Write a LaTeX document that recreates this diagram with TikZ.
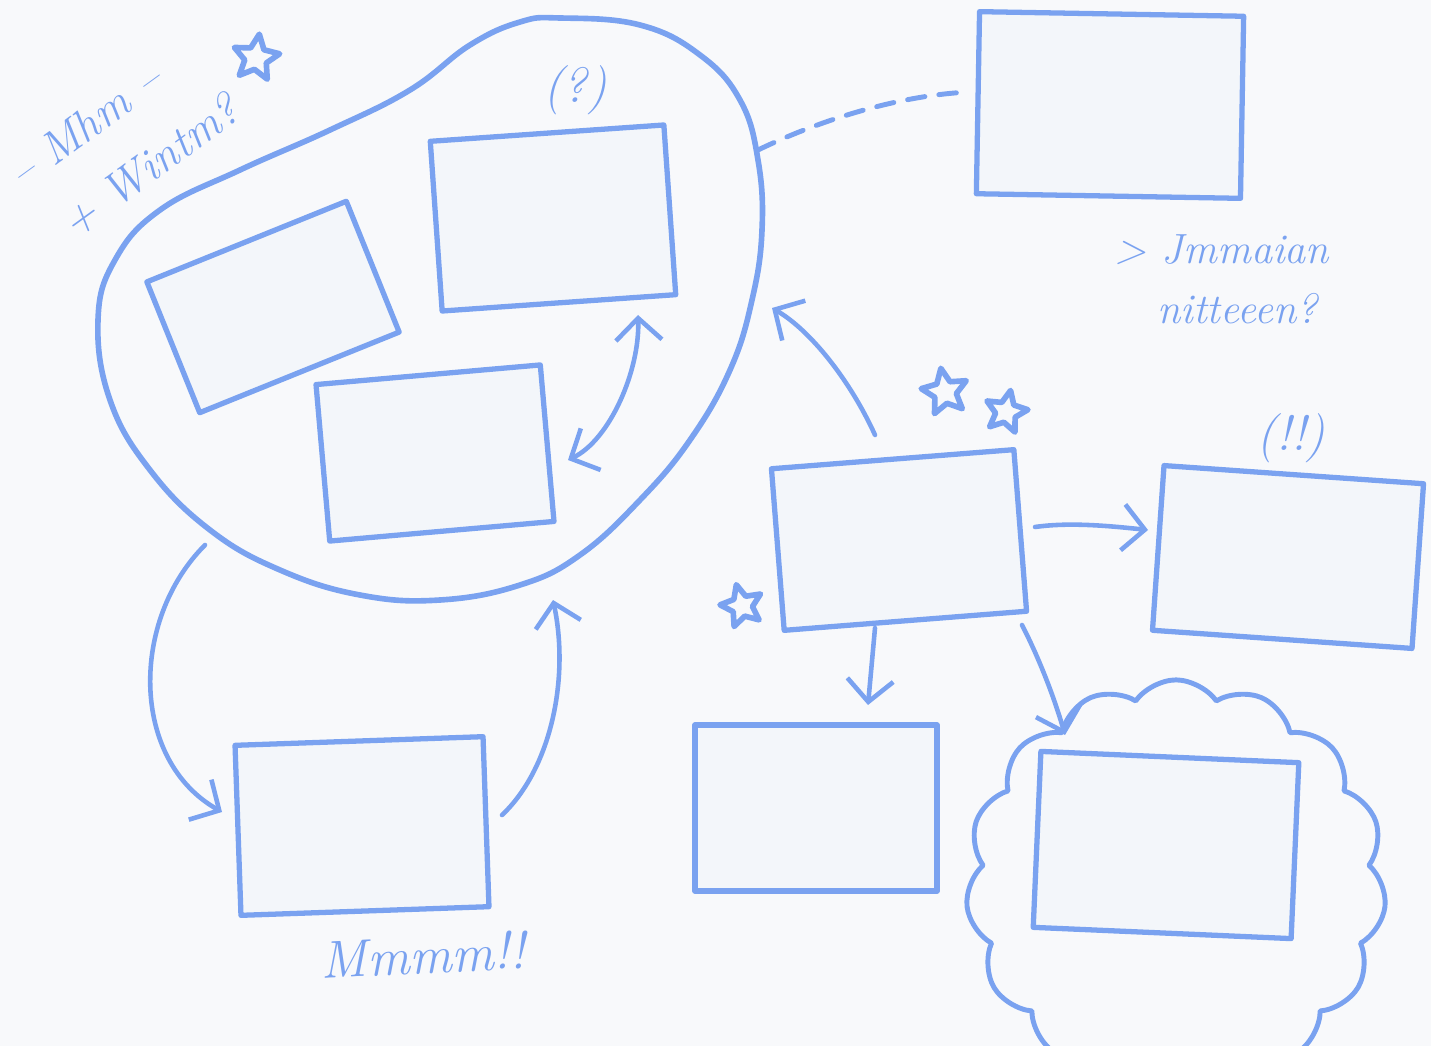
\documentclass[tikz,border=0pt]{standalone}
\usetikzlibrary{shapes.geometric,shapes.symbols,arrows.meta}

\definecolor{pen}{RGB}{122,162,240}
\definecolor{paper}{RGB}{248,249,251}
\definecolor{card}{RGB}{243,246,250}

\begin{document}
\begin{tikzpicture}[x=0.01cm, y=-0.01cm, line cap=round, line join=round,
  box/.style={draw=pen, fill=card, line width=1.5pt, rectangle, inner sep=0pt},
  mark_star/.style={draw=pen, line width=1.6pt, star, star points=5, star point ratio=2.1, minimum size=0.48cm, inner sep=0pt},
  arr/.style={draw=pen, line width=1.3pt, -{Straight Barb[length=2.2mm,width=4.6mm]}},
  scrawl/.style={text=pen, font=\fontsize{14}{16}\selectfont\itshape, inner sep=1pt}]

\fill[paper] (0,0) rectangle (1431,1046);
\clip (0,0) rectangle (1431,1046);

% the blob
\draw[pen, line width=1.6pt, fill=paper] plot[smooth cycle, tension=0.7] coordinates {
  (560,18) (640,25) (700,55) (740,100) (758,160) (762,230) (752,300) (730,370)
  (690,440) (640,500) (580,555) (520,585) (440,600) (360,595) (280,570) (210,530)
  (150,470) (110,400) (98,320) (115,260) (160,210) (240,170) (330,130) (410,90)
  (470,45) (520,22)};

% cloud
\node[cloud, cloud puffs=15, cloud puff arc=110, aspect=1.1, draw=pen, line width=1.4pt,
  minimum width=4.2cm, minimum height=4.1cm] (cloud) at (1176,885) {};

% boxes
\node[box, minimum width=2.15cm, minimum height=1.41cm, rotate=22] (b1) at (273,307) {};
\node[box, minimum width=2.34cm, minimum height=1.70cm, rotate=4] (b2) at (553,218) {};
\node[box, minimum width=2.25cm, minimum height=1.57cm, rotate=5] (b3) at (435,453) {};
\node[box, minimum width=2.64cm, minimum height=1.82cm, rotate=-1] (top) at (1110,105) {};
\node[box, minimum width=2.43cm, minimum height=1.62cm, rotate=4.5] (mid) at (899,540) {};
\node[box, minimum width=2.60cm, minimum height=1.65cm, rotate=-4] (hot) at (1288,557) {};
\node[box, minimum width=2.48cm, minimum height=1.70cm, rotate=2] (low) at (362,826) {};
\node[box, minimum width=2.42cm, minimum height=1.66cm] (down) at (816,808) {};
\node[box, minimum width=2.58cm, minimum height=1.76cm, rotate=-2.5] (inner) at (1166,845) {};

% stars
\node[mark_star, rotate=-8] (s1) at (256,58) {};
\node[mark_star, rotate=10] (s2) at (945,392) {};
\node[mark_star, rotate=-12, minimum size=0.44cm] (s3) at (1006,412) {};
\node[mark_star, rotate=15, minimum size=0.44cm] (s4) at (742,606) {};

% ends on the blob
\coordinate (blobTR) at (758,150);
\coordinate (blobR) at (772,308);
\coordinate (blobBL) at (205,545);
\coordinate (blobB) at (553,600);
\coordinate (b2s) at (638,315);
\coordinate (b3e) at (568,460);
\coordinate (topw) at (970,92);
\coordinate (midn) at (875,435);
\coordinate (mide) at (1035,527);
\coordinate (mids) at (875,628);
\coordinate (midse) at (1022,625);
\coordinate (hotw) at (1148,530);
\coordinate (downn) at (868,705);
\coordinate (cloudn) at (1065,735);
\coordinate (loww) at (222,812);
\coordinate (lowe) at (502,815);

\draw[pen, line width=1.4pt, dash pattern=on 5pt off 4pt] (blobTR) .. controls (820,120) and (900,95) .. (topw);
\draw[arr] (midn) .. controls (850,380) and (810,330) .. (blobR);
\draw[arr, {Straight Barb[length=2.2mm,width=4.6mm]}-{Straight Barb[length=2.2mm,width=4.6mm]}] (b3e) .. controls (610,440) and (640,370) .. (b2s);
\draw[arr] (blobBL) .. controls (130,620) and (130,760) .. (loww);
\draw[arr] (lowe) .. controls (550,770) and (570,680) .. (blobB);
\draw[arr] (mide) .. controls (1070,522) and (1110,526) .. (hotw);
\draw[arr] (mids) -- (downn);
\draw[arr] (midse) .. controls (1040,660) and (1055,700) .. (cloudn);

% scribbles
\node[scrawl, rotate=36, align=left, font=\fontsize{13}{20}\selectfont\itshape] (note1) at (124,142) {-- Mhm --\\\hspace{4pt}+ Wintm?};
\node[scrawl] (ask) at (575,90) {(?)};
\node[scrawl] (bang) at (1291,438) {(!!)};
\node[scrawl, align=left, font=\fontsize{12}{17}\selectfont\itshape] (note3) at (1222,279) {> Jmmaian\\\hspace{12pt}nitteeen?};
\node[scrawl, font=\fontsize{15}{17}\selectfont\itshape, rotate=3] (note5) at (423,955) {Mmmm!!};

\end{tikzpicture}
\end{document}
